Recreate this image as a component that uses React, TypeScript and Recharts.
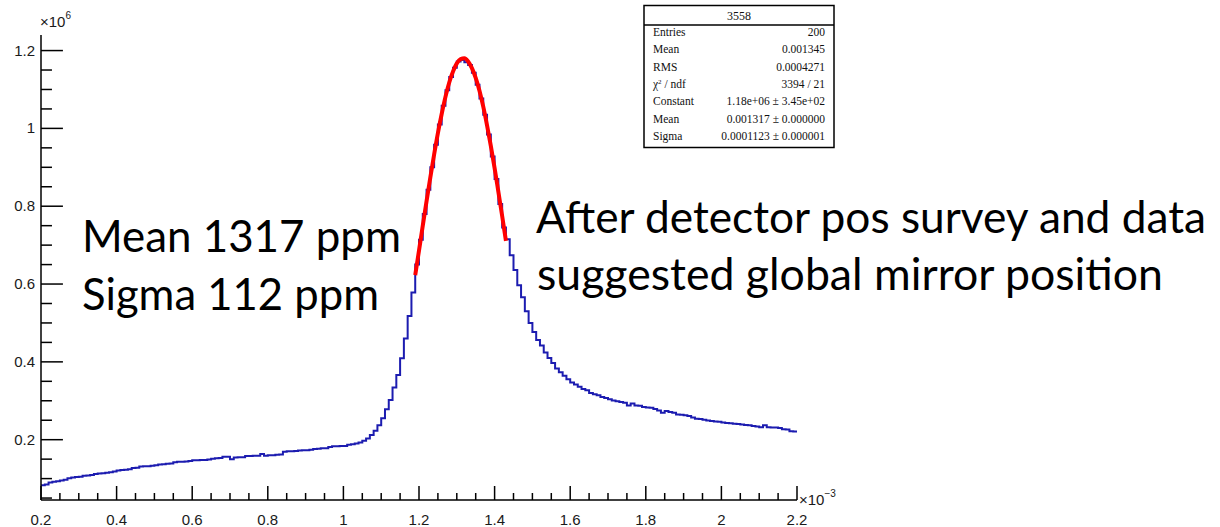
import { ComposedChart, Line, ReferenceLine, XAxis, YAxis } from 'recharts';

// x in units of 1e-3, counts in units of 1e6
const X_MIN = 0.2;
const X_MAX = 2.2;
const BIN_WIDTH = 0.01;
const Y_MIN = 0.045;
const Y_MAX = 1.24;

// 200 bins, 0.2 .. 2.2
const binCounts = [
  0.083, 0.085, 0.09, 0.092, 0.093, 0.095, 0.097, 0.101, 0.103, 0.104,
  0.105, 0.107, 0.108, 0.109, 0.112, 0.113, 0.114, 0.115, 0.116, 0.118,
  0.121, 0.122, 0.123, 0.124, 0.127, 0.128, 0.131, 0.132, 0.132, 0.133,
  0.134, 0.136, 0.137, 0.138, 0.139, 0.142, 0.143, 0.143, 0.144, 0.145,
  0.147, 0.147, 0.148, 0.148, 0.149, 0.151, 0.152, 0.153, 0.156, 0.156,
  0.15, 0.154, 0.155, 0.155, 0.158, 0.158, 0.159, 0.159, 0.163, 0.159,
  0.16, 0.16, 0.161, 0.162, 0.169, 0.17, 0.17, 0.171, 0.172, 0.173,
  0.173, 0.174, 0.176, 0.177, 0.178, 0.178, 0.181, 0.183, 0.183, 0.184,
  0.184, 0.187, 0.188, 0.19, 0.193, 0.197, 0.203, 0.212, 0.223, 0.237,
  0.255, 0.278, 0.302, 0.334, 0.366, 0.409, 0.46, 0.518, 0.578, 0.65,
  0.714, 0.78, 0.842, 0.9, 0.958, 1.01, 1.058, 1.098, 1.132, 1.156,
  1.172, 1.176, 1.17, 1.163, 1.143, 1.112, 1.077, 1.035, 0.984, 0.928,
  0.87, 0.806, 0.745, 0.715, 0.674, 0.636, 0.597, 0.566, 0.53, 0.5,
  0.477, 0.456, 0.442, 0.424, 0.41, 0.397, 0.383, 0.373, 0.364, 0.355,
  0.347, 0.342, 0.336, 0.33, 0.327, 0.32, 0.317, 0.314, 0.31, 0.307,
  0.304, 0.301, 0.299, 0.297, 0.295, 0.288, 0.293, 0.288, 0.287, 0.284,
  0.283, 0.282, 0.279, 0.275, 0.269, 0.274, 0.271, 0.269, 0.265, 0.264,
  0.263, 0.261, 0.257, 0.254, 0.253, 0.251, 0.249, 0.248, 0.247, 0.246,
  0.244, 0.243, 0.242, 0.241, 0.24, 0.239, 0.238, 0.237, 0.235, 0.234,
  0.232, 0.237, 0.232, 0.231, 0.231, 0.23, 0.227, 0.226, 0.222, 0.221,
];

// gaussian fit curve over the fit range
const fitX = [
  1.19, 1.2, 1.21, 1.22, 1.23, 1.24, 1.25, 1.26, 1.27, 1.28, 1.29, 1.3, 1.31,
  1.32, 1.33, 1.34, 1.35, 1.36, 1.37, 1.38, 1.39, 1.4, 1.41, 1.42, 1.43,
];
const fitY = [
  0.623, 0.686, 0.75, 0.813, 0.874, 0.933, 0.988, 1.037, 1.081, 1.118, 1.146, 1.167, 1.178,
  1.18, 1.172, 1.155, 1.13, 1.097, 1.056, 1.008, 0.955, 0.898, 0.837, 0.775, 0.711,
];

const xTicks = [
  0.2, 0.25, 0.3, 0.35, 0.4, 0.45, 0.5, 0.55, 0.6, 0.65, 0.7, 0.75, 0.8, 0.85, 0.9, 0.95,
  1, 1.05, 1.1, 1.15, 1.2, 1.25, 1.3, 1.35, 1.4, 1.45, 1.5, 1.55, 1.6, 1.65, 1.7, 1.75,
  1.8, 1.85, 1.9, 1.95, 2, 2.05, 2.1, 2.15, 2.2,
];
const xMajor = [0.2, 0.4, 0.6, 0.8, 1, 1.2, 1.4, 1.6, 1.8, 2, 2.2];
const xMajorLabels = ['0.2', '0.4', '0.6', '0.8', '1', '1.2', '1.4', '1.6', '1.8', '2', '2.2'];

const yTicks = [
  0.05, 0.1, 0.15, 0.2, 0.25, 0.3, 0.35, 0.4, 0.45, 0.5, 0.55, 0.6, 0.65, 0.7, 0.75, 0.8,
  0.85, 0.9, 0.95, 1, 1.05, 1.1, 1.15, 1.2,
];
const yMajor = [0.2, 0.4, 0.6, 0.8, 1, 1.2];
const yMajorLabels = ['0.2', '0.4', '0.6', '0.8', '1', '1.2'];

const statsTitle = '3558';
const statsLabels = ['Entries', 'Mean', 'RMS', 'chi2', 'Constant', 'Mean', 'Sigma'];
const statsValues = [
  '200',
  '0.001345',
  '0.0004271',
  '3394 / 21',
  '1.18e+06 \u00b1 3.45e+02',
  '0.001317 \u00b1 0.000000',
  '0.0001123 \u00b1 0.000001',
];

const histPoints = binCounts
  .map((c, i) => ({ x: X_MIN + i * BIN_WIDTH, y: c }))
  .concat([{ x: X_MAX, y: binCounts[binCounts.length - 1] }]);
const fitPoints = fitX.map((x, i) => ({ x, y: fitY[i] }));

const AXIS_FONT = '"Liberation Sans", Arial, sans-serif';
const STATS_FONT = '"Liberation Serif", "Times New Roman", serif';
const NOTE_FONT = 'Lato, "Open Sans", sans-serif';

// tick marks point into the frame (ROOT style), lengths in axis units:
// y ticks run along x, x ticks run along y
const Y_TICK_MAJOR = 0.058;
const Y_TICK_MINOR = 0.029;
const X_TICK_MAJOR = 0.036;
const X_TICK_MINOR = 0.018;

const near = (a: number, b: number) => Math.abs(a - b) < 1e-9;
const isMajor = (list: number[], v: number) => list.some((t) => near(t, v));

function XTickLabel(props: any) {
  const { x, y, payload } = props;
  const i = xMajor.findIndex((t) => near(t, payload.value));
  if (i < 0) return <g />;
  return (
    <text x={x} y={y + 25} textAnchor="middle" fontSize={15} fill="#1a1a1a" fontFamily={AXIS_FONT}>
      {xMajorLabels[i]}
    </text>
  );
}

function YTickLabel(props: any) {
  const { x, y, payload } = props;
  const i = yMajor.findIndex((t) => near(t, payload.value));
  if (i < 0) return <g />;
  return (
    <text x={x - 6} y={y + 5} textAnchor="end" fontSize={15} fill="#1a1a1a" fontFamily={AXIS_FONT}>
      {yMajorLabels[i]}
    </text>
  );
}

function StatsBox() {
  const left = 644;
  const width = 190;
  return (
    <g fontFamily={STATS_FONT} fill="#111">
      <rect x={left} y={5.5} width={width} height={142} fill="#fff" stroke="#000" strokeWidth={1.5} />
      <line x1={left} x2={left + width} y1={25} y2={25} stroke="#000" strokeWidth={1.5} />
      <text x={left + width / 2} y={20} textAnchor="middle" fontSize={12}>
        {statsTitle}
      </text>
      {statsLabels.map((label, k) => (
        <g key={k}>
          <text x={left + 9} y={36 + k * 17.3} fontSize={11.5}>
            {label === 'chi2' ? (
              <>
                {'\u03c7'}
                <tspan dy={-4} fontSize={7}>
                  2
                </tspan>
                <tspan dy={4}>{' / ndf'}</tspan>
              </>
            ) : (
              label
            )}
          </text>
          <text x={left + width - 9} y={36 + k * 17.3} fontSize={11.5} textAnchor="end">
            {statsValues[k]}
          </text>
        </g>
      ))}
    </g>
  );
}

export default function App() {
  return (
    <div style={{ position: 'absolute', left: 0, top: 0, width: 1220, height: 527, background: '#fff' }}>
      <ComposedChart width={1220} height={527} margin={{ top: 35, right: 423, bottom: 0, left: 0 }}>
        <XAxis
          xAxisId="main"
          dataKey="x"
          type="number"
          domain={[X_MIN, X_MAX]}
          ticks={xTicks}
          interval={0}
          allowDataOverflow
          height={27}
          tickSize={0}
          tickMargin={0}
          tickLine={false}
          stroke="#000"
          axisLine={{ stroke: '#000', strokeWidth: 1.5 }}
          tick={XTickLabel}
        />
        <XAxis
          xAxisId="top"
          orientation="top"
          dataKey="x"
          type="number"
          domain={[X_MIN, X_MAX]}
          height={0}
          tick={false}
          tickLine={false}
          axisLine={{ stroke: '#000', strokeWidth: 1.5 }}
        />
        <YAxis
          yAxisId="main"
          type="number"
          domain={[Y_MIN, Y_MAX]}
          ticks={yTicks}
          interval={0}
          allowDataOverflow
          width={41}
          tickSize={0}
          tickMargin={0}
          tickLine={false}
          stroke="#000"
          axisLine={{ stroke: '#000', strokeWidth: 1.5 }}
          tick={YTickLabel}
        />
        <YAxis
          yAxisId="right"
          orientation="right"
          type="number"
          domain={[Y_MIN, Y_MAX]}
          width={0}
          tick={false}
          tickLine={false}
          axisLine={{ stroke: '#000', strokeWidth: 1.5 }}
        />
        {yTicks.map((v) => (
          <ReferenceLine
            key={`yt-${v}`}
            xAxisId="main"
            yAxisId="main"
            ifOverflow="visible"
            stroke="#000"
            strokeWidth={1.5}
            segment={[
              { x: X_MIN, y: v },
              { x: X_MIN + (isMajor(yMajor, v) ? Y_TICK_MAJOR : Y_TICK_MINOR), y: v },
            ]}
          />
        ))}
        {xTicks.map((v) => (
          <ReferenceLine
            key={`xt-${v}`}
            xAxisId="main"
            yAxisId="main"
            ifOverflow="visible"
            stroke="#000"
            strokeWidth={1.5}
            segment={[
              { x: v, y: Y_MIN },
              { x: v, y: Y_MIN + (isMajor(xMajor, v) ? X_TICK_MAJOR : X_TICK_MINOR) },
            ]}
          />
        ))}
        <Line
          xAxisId="main"
          yAxisId="main"
          data={histPoints}
          dataKey="y"
          type="stepAfter"
          stroke="#1c1cb0"
          strokeWidth={2}
          dot={false}
          activeDot={false}
          isAnimationActive={false}
        />
        <Line
          xAxisId="main"
          yAxisId="main"
          data={fitPoints}
          dataKey="y"
          type="monotone"
          stroke="#ff0000"
          strokeWidth={4}
          dot={false}
          activeDot={false}
          isAnimationActive={false}
        />
      </ComposedChart>
      <svg width={1220} height={527} style={{ position: 'absolute', left: 0, top: 0, pointerEvents: 'none' }}>
        <text x={40} y={27} fontSize={15} fill="#1a1a1a" fontFamily={AXIS_FONT}>
          {'\u00d710'}
          <tspan dy={-8} fontSize={10}>
            6
          </tspan>
        </text>
        <text x={799} y={505} fontSize={15} fill="#1a1a1a" fontFamily={AXIS_FONT}>
          {'\u00d710'}
          <tspan dy={-8} fontSize={10}>
            {'\u22123'}
          </tspan>
        </text>
        <StatsBox />
        <g fontFamily={NOTE_FONT} fontSize={44} fill="#000">
          <text x={82} y={252} textLength={319} lengthAdjust="spacingAndGlyphs">
            Mean 1317 ppm
          </text>
          <text x={82} y={310} textLength={297} lengthAdjust="spacingAndGlyphs">
            Sigma 112 ppm
          </text>
          <text x={536} y={233} textLength={670} lengthAdjust="spacingAndGlyphs">
            After detector pos survey and data
          </text>
          <text x={537} y={290} textLength={626} lengthAdjust="spacingAndGlyphs">
            suggested global mirror position
          </text>
        </g>
      </svg>
    </div>
  );
}
